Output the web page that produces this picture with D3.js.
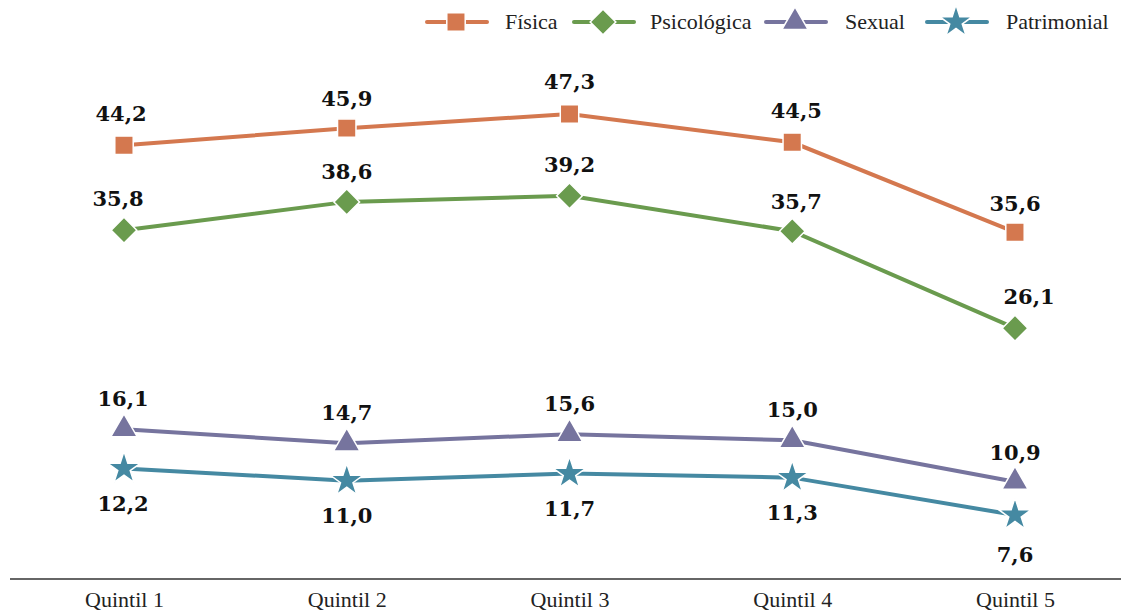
<!DOCTYPE html>
<html><head><meta charset="utf-8">
<script src="https://cdn.jsdelivr.net/npm/d3@7"></script>
<style>body{margin:0;background:#fff}</style>
</head><body>
<svg id="c" width="1121" height="613"></svg>
<script>
const categories = ["Quintil 1","Quintil 2","Quintil 3","Quintil 4","Quintil 5"];
const seriesNames = ["Física","Psicológica","Sexual","Patrimonial"];
const fisica = [44.2,45.9,47.3,44.5,35.6];
const psicologica = [35.8,38.6,39.2,35.7,26.1];
const sexual = [16.1,14.7,15.6,15.0,10.9];
const patrimonial = [12.2,11.0,11.7,11.3,7.6];
const colors = ["#D4784F","#6A9B4E","#76749E","#4589A2"];
const symbols = [d3.symbolSquare, d3.symbolSquare, d3.symbolTriangle, d3.symbolStar];
const symRot = [0, 45, 0, 0];
const symSizes = [340, 330, 300, 330];

const svg = d3.select("#c");
const x = d3.scalePoint().domain(categories).range([124,1015]);
const y = d3.scaleLinear().domain([7.6,47.3]).range([515,114]);

const series = [fisica,psicologica,sexual,patrimonial].map((v,i)=>({name:seriesNames[i],values:v,color:colors[i],sym:symbols[i],size:symSizes[i],rot:symRot[i]}));

// axis
const xAxis = d3.axisBottom(x).tickSize(0).tickPadding(12);
const ax = svg.append("g").attr("transform","translate(0,579)").call(xAxis);
ax.select(".domain").remove();
svg.append("line").attr("x1",10).attr("x2",1121).attr("y1",579).attr("y2",579).attr("stroke","#666").attr("stroke-width",2);
ax.selectAll("text").attr("font-family","Liberation Serif").attr("font-size",22).attr("fill","#222");

const line = d3.line().x((d,i)=>x(categories[i])).y(d=>y(d));

series.forEach(s=>{
  const g = svg.append("g");
  g.append("path").attr("d",line(s.values)).attr("fill","none").attr("stroke","#fff").attr("stroke-width",6);
  g.append("path").attr("d",line(s.values)).attr("fill","none").attr("stroke",s.color).attr("stroke-width",4);
  g.selectAll("path.m").data(s.values).join("path").attr("class","m")
    .attr("transform",(d,i)=>`translate(${x(categories[i])},${y(d)}) rotate(${s.rot})`)
    .attr("d",d3.symbol(s.sym,s.size)).attr("fill",s.color).attr("stroke","#fff").attr("stroke-width",1.5);
});

// labels
const fmt = v => v.toFixed(1).replace(".",",");
const offs = {
  "Física":[[-3,-24],[0,-22],[0,-25],[4,-24],[0,-21]],
  "Psicológica":[[-6,-24],[0,-23],[0,-24],[4,-22],[14,-24]],
  "Sexual":[[-1,-23],[0,-23],[0,-23],[0,-23],[0,-22]],
  "Patrimonial":[[-1,42],[0,42],[0,42],[0,42],[0,47]]
};
series.forEach(s=>{
  svg.append("g").selectAll("text").data(s.values).join("text")
    .attr("x",(d,i)=>x(categories[i])+offs[s.name][i][0])
    .attr("y",(d,i)=>y(d)+offs[s.name][i][1])
    .attr("text-anchor","middle")
    .attr("font-family","DejaVu Serif").attr("font-weight","bold").attr("font-size",21).attr("fill","#111")
    .text(fmt);
});

// legend
const legX = [427,574,766,927];
const legTX = [505,650,845,1006];
const leg = svg.append("g");
series.forEach((s,i)=>{
  const g = leg.append("g").attr("transform",`translate(${legX[i]},22)`);
  g.append("line").attr("x1",0).attr("x2",60).attr("stroke",s.color).attr("stroke-width",4).attr("stroke-linecap","round");
  g.append("path").attr("transform",`translate(29,0) rotate(${s.rot})`).attr("d",d3.symbol(s.sym,s.size)).attr("fill",s.color).attr("stroke","#fff").attr("stroke-width",1.5);
  leg.append("text").attr("x",legTX[i]).attr("y",29).attr("font-family","Liberation Serif").attr("font-size",22).attr("fill","#222").text(s.name);
});
</script>
</body></html>
